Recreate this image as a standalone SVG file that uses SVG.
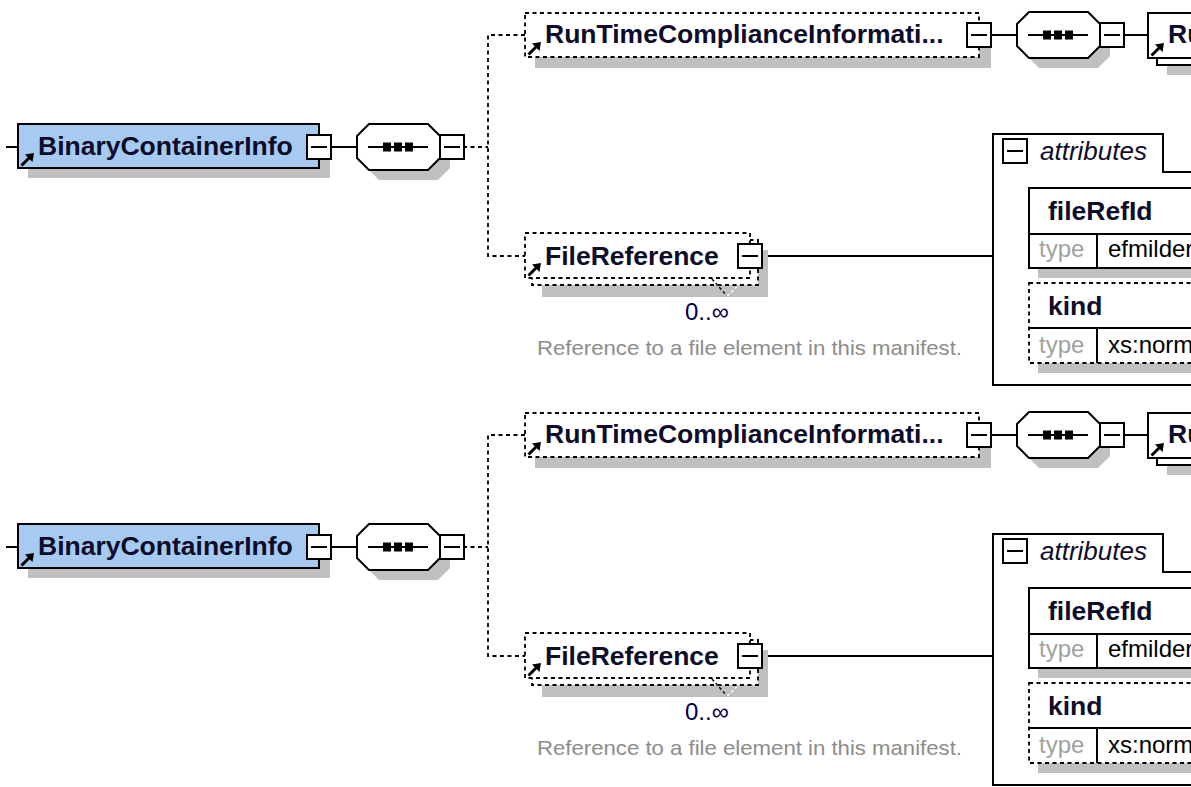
<svg xmlns="http://www.w3.org/2000/svg" width="1191" height="787" viewBox="0 0 1191 787">
<defs>
<style>
.s{fill:none;stroke:#000;stroke-width:2}
.d{fill:none;stroke:#000;stroke-width:1.8;stroke-dasharray:4 3.5}
.bx{fill:#fff;stroke:#000;stroke-width:2}
.dbx{fill:#fff;stroke:#000;stroke-width:1.8;stroke-dasharray:4 3.5}
.sh{fill:#c0c0c0}
.blue{fill:#a6caf0;stroke:#000;stroke-width:2}
.n{font-family:"Liberation Sans",Arial,sans-serif;font-weight:bold;font-size:26.5px;fill:#0d0d2b}
.ty{font-family:"Liberation Sans",Arial,sans-serif;font-size:24px;fill:#a0a0a0}
.tv{font-family:"Liberation Sans",Arial,sans-serif;font-size:24px;fill:#000}
.m{font-family:"Liberation Sans",Arial,sans-serif;font-size:24px;fill:#000050}
.desc{font-family:"Liberation Sans",Arial,sans-serif;font-size:21px;fill:#8c8c8c}
.it{font-family:"Liberation Sans",Arial,sans-serif;font-style:italic;font-size:26px;fill:#0d0d2b}
</style>
<g id="minus"><rect x="0" y="0" width="24" height="24" class="bx"/><line x1="4" y1="12" x2="20" y2="12" class="s"/></g>
<g id="ref"><path d="M0.5,-0.5 L8,-8" stroke="#000" stroke-width="3"/><path d="M13,-13 L4,-11.5 L11.5,-4Z" fill="#000"/></g>
<g id="seq">
<polygon class="sh" points="22,-13 81,-13 93,-1 93,21 81,33 22,33 10,21 10,-1"/>
<polygon class="bx" points="12,-23 71,-23 83,-11 83,11 71,23 12,23 0,11 0,-11"/>
<line class="s" x1="11" y1="0" x2="71" y2="0"/>
<rect x="26" y="-4.5" width="8" height="9" fill="#000"/>
<rect x="37" y="-4.5" width="8" height="9" fill="#000"/>
<rect x="48" y="-4.5" width="8" height="9" fill="#000"/>
</g>
</defs>
<rect width="1191" height="787" fill="#fff"/>

<g id="diagram1">
<g id="connectors1">
<path class="s" d="M6,147 H18"/>
<path class="s" d="M331,147 H357"/>
<path class="d" d="M463,147 H488"/>
<path class="d" d="M525,35 H488 V256 H525"/>
<path class="s" d="M992,35 H1017"/>
<path class="s" d="M1124,35 H1148"/>
<path class="s" d="M762,256 H993"/>
</g>
<g id="BinaryContainerInfo1">
<rect class="sh" x="28" y="134" width="302" height="44"/>
<rect class="blue" x="18" y="124" width="301" height="44"/>
<use href="#ref" x="21" y="166"/>
<text class="n" x="38" y="155">BinaryContainerInfo</text>
<use href="#minus" x="307" y="135"/>
</g>
<g id="sequence1a">
<use href="#seq" x="357" y="147"/>
<use href="#minus" x="440" y="135"/>
</g>
<g id="RunTimeCompliance1">
<rect class="sh" x="535" y="23" width="456" height="45"/>
<rect class="dbx" x="525" y="13" width="454" height="44"/>
<use href="#ref" x="528" y="55"/>
<text class="n" x="545" y="43">RunTimeComplianceInformati...</text>
<use href="#minus" x="967" y="23"/>
</g>
<g id="sequence1b">
<use href="#seq" x="1017" y="35"/>
<use href="#minus" x="1100" y="23"/>
</g>
<g id="RunTimeChild1">
<rect class="sh" x="1167" y="31" width="40" height="44"/>
<rect class="bx" x="1157" y="21" width="50" height="44"/>
<rect class="bx" x="1148" y="13" width="60" height="45"/>
<use href="#ref" x="1151" y="56"/>
<text class="n" x="1168" y="43">Ru</text>
</g>
<g id="FileReference1">
<rect class="sh" x="542" y="250" width="226" height="47"/>
<rect class="dbx" x="532" y="240" width="226" height="45"/>
<rect class="dbx" x="525" y="233" width="225" height="45"/>
<use href="#ref" x="528" y="276"/>
<text class="n" x="545" y="265">FileReference</text>
<use href="#minus" x="738" y="244"/>
<path d="M712,279 L727,296" stroke="#000" stroke-width="1.5" stroke-dasharray="3 2.5" fill="none"/>
<path d="M727,296 L737,287" stroke="#fff" stroke-width="1.5" stroke-dasharray="3 2.5" fill="none"/>
<text class="m" x="685" y="320">0..∞</text>
<text class="desc" x="537" y="355" textLength="425" lengthAdjust="spacingAndGlyphs">Reference to a file element in this manifest.</text>
</g>
<g id="attributes1">
<polygon class="bx" points="993,134 1163,134 1163,172 1200,172 1200,385 993,385"/>
<use href="#minus" x="1003" y="139"/>
<text class="it" x="1040" y="160">attributes</text>
<rect class="sh" x="1038" y="198" width="160" height="80"/>
<rect class="bx" x="1029" y="188" width="180" height="80"/>
<path class="s" d="M1029,234 H1200 M1097,234 V268"/>
<text class="n" x="1048" y="220">fileRefId</text>
<text class="ty" x="1039" y="257">type</text>
<text class="tv" x="1108" y="257">efmilder</text>
<rect class="sh" x="1038" y="293" width="160" height="80"/>
<rect class="dbx" x="1029" y="283" width="180" height="80"/>
<path class="s" d="M1029,328 H1200 M1097,328 V363"/>
<text class="n" x="1048" y="315">kind</text>
<text class="ty" x="1039" y="353">type</text>
<text class="tv" x="1108" y="353">xs:norm</text>
</g>
</g>

<g id="diagram2" transform="translate(0,400)">
<g id="connectors2">
<path class="s" d="M6,147 H18"/>
<path class="s" d="M331,147 H357"/>
<path class="d" d="M463,147 H488"/>
<path class="d" d="M525,35 H488 V256 H525"/>
<path class="s" d="M992,35 H1017"/>
<path class="s" d="M1124,35 H1148"/>
<path class="s" d="M762,256 H993"/>
</g>
<g id="BinaryContainerInfo2">
<rect class="sh" x="28" y="134" width="302" height="44"/>
<rect class="blue" x="18" y="124" width="301" height="44"/>
<use href="#ref" x="21" y="166"/>
<text class="n" x="38" y="155">BinaryContainerInfo</text>
<use href="#minus" x="307" y="135"/>
</g>
<g id="sequence2a">
<use href="#seq" x="357" y="147"/>
<use href="#minus" x="440" y="135"/>
</g>
<g id="RunTimeCompliance2">
<rect class="sh" x="535" y="23" width="456" height="45"/>
<rect class="dbx" x="525" y="13" width="454" height="44"/>
<use href="#ref" x="528" y="55"/>
<text class="n" x="545" y="43">RunTimeComplianceInformati...</text>
<use href="#minus" x="967" y="23"/>
</g>
<g id="sequence2b">
<use href="#seq" x="1017" y="35"/>
<use href="#minus" x="1100" y="23"/>
</g>
<g id="RunTimeChild2">
<rect class="sh" x="1167" y="31" width="40" height="44"/>
<rect class="bx" x="1157" y="21" width="50" height="44"/>
<rect class="bx" x="1148" y="13" width="60" height="45"/>
<use href="#ref" x="1151" y="56"/>
<text class="n" x="1168" y="43">Ru</text>
</g>
<g id="FileReference2">
<rect class="sh" x="542" y="250" width="226" height="47"/>
<rect class="dbx" x="532" y="240" width="226" height="45"/>
<rect class="dbx" x="525" y="233" width="225" height="45"/>
<use href="#ref" x="528" y="276"/>
<text class="n" x="545" y="265">FileReference</text>
<use href="#minus" x="738" y="244"/>
<path d="M712,279 L727,296" stroke="#000" stroke-width="1.5" stroke-dasharray="3 2.5" fill="none"/>
<path d="M727,296 L737,287" stroke="#fff" stroke-width="1.5" stroke-dasharray="3 2.5" fill="none"/>
<text class="m" x="685" y="320">0..∞</text>
<text class="desc" x="537" y="355" textLength="425" lengthAdjust="spacingAndGlyphs">Reference to a file element in this manifest.</text>
</g>
<g id="attributes2">
<polygon class="bx" points="993,134 1163,134 1163,172 1200,172 1200,385 993,385"/>
<use href="#minus" x="1003" y="139"/>
<text class="it" x="1040" y="160">attributes</text>
<rect class="sh" x="1038" y="198" width="160" height="80"/>
<rect class="bx" x="1029" y="188" width="180" height="80"/>
<path class="s" d="M1029,234 H1200 M1097,234 V268"/>
<text class="n" x="1048" y="220">fileRefId</text>
<text class="ty" x="1039" y="257">type</text>
<text class="tv" x="1108" y="257">efmilder</text>
<rect class="sh" x="1038" y="293" width="160" height="80"/>
<rect class="dbx" x="1029" y="283" width="180" height="80"/>
<path class="s" d="M1029,328 H1200 M1097,328 V363"/>
<text class="n" x="1048" y="315">kind</text>
<text class="ty" x="1039" y="353">type</text>
<text class="tv" x="1108" y="353">xs:norm</text>
</g>
</g>
</svg>
